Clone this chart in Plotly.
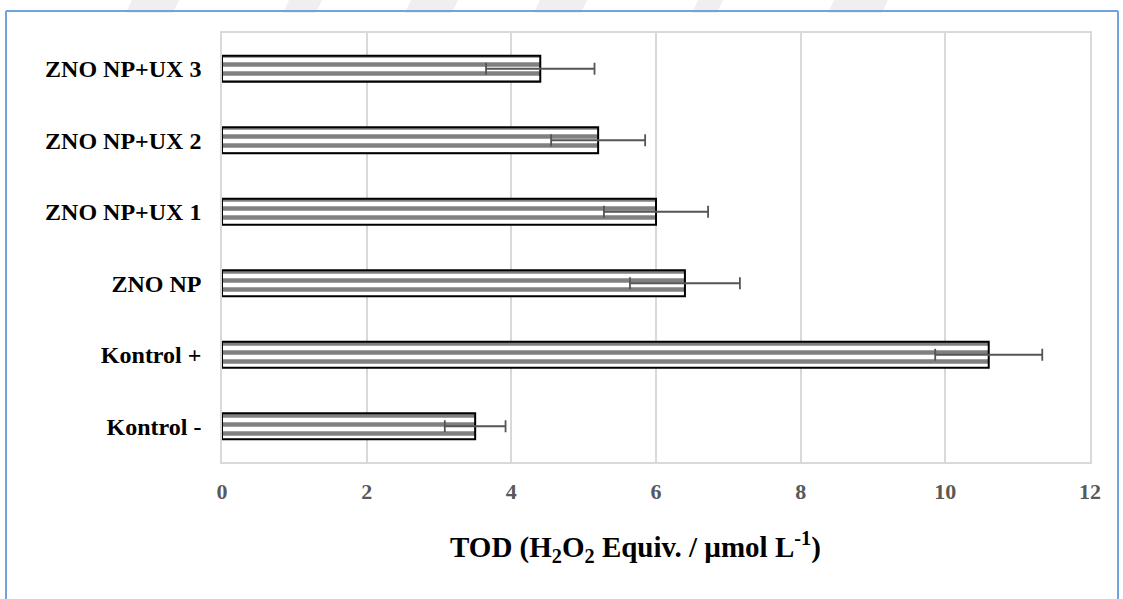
import plotly.graph_objects as go

# TOD results per group (mean and standard deviation)
groups = ["Kontrol -", "Kontrol +", "ZNO NP", "ZNO NP+UX 1", "ZNO NP+UX 2", "ZNO NP+UX 3"]
tod_mean = [3.5, 10.6, 6.4, 6.0, 5.2, 4.4]
tod_sd = [0.42, 0.74, 0.76, 0.72, 0.65, 0.75]
x_ticks = [0, 2, 4, 6, 8, 10, 12]

W, H = 1123, 599
L, R, T, B = 222, 33, 33, 137
pw, ph = W - L - R, H - T - B


def px_x(p):
    return (p - L) / pw


def px_y(p):
    return (H - B - p) / ph


serif = "'Liberation Serif', 'Times New Roman', 'DejaVu Serif', serif"

fig = go.Figure()
fig.add_trace(go.Bar(
    y=groups,
    x=tod_mean,
    orientation="h",
    width=0.365,
    marker=dict(
        color="white",
        line=dict(color="black", width=2),
        pattern=dict(shape="-", fgcolor="#808080", bgcolor="white",
                     size=9, solidity=0.5, fillmode="replace"),
    ),
    error_x=dict(type="data", array=tod_sd, visible=True,
                 color="#555555", thickness=1.8, width=6),
    showlegend=False,
))

# frame around the whole chart (left, top, right edges)
border = "#6fa3dc"
shapes = [
    dict(type="line", xref="paper", yref="paper", x0=px_x(6), x1=px_x(6),
         y0=px_y(11), y1=px_y(620), line=dict(color=border, width=2)),
    dict(type="line", xref="paper", yref="paper", x0=px_x(6), x1=px_x(1118),
         y0=px_y(11), y1=px_y(11), line=dict(color=border, width=2)),
    dict(type="line", xref="paper", yref="paper", x0=px_x(1118), x1=px_x(1118),
         y0=px_y(11), y1=px_y(620), line=dict(color=border, width=2)),
]

# faint slanted marks along the top edge
for a, b in [(122, 179), (279, 322), (401, 458), (530, 587), (688, 723), (824, 888)]:
    x0, x1 = px_x(a + 10), px_x(b)
    x2, x3 = px_x(b - 6), px_x(a + 4)
    y_top, y_bot = px_y(0), px_y(13)
    shapes.append(dict(
        type="path", xref="paper", yref="paper", layer="below",
        path=f"M {x0} {y_top} L {x1} {y_top} L {x2} {y_bot} L {x3} {y_bot} Z",
        fillcolor="#efefef", line=dict(width=0),
    ))

fig.update_layout(
    width=W, height=H,
    margin=dict(l=L, r=R, t=T, b=B),
    paper_bgcolor="white",
    plot_bgcolor="white",
    shapes=shapes,
    bargap=0.6,
    xaxis=dict(
        range=[0, 12], tickvals=x_ticks,
        showgrid=True, gridcolor="#d9d9d9", gridwidth=1.5,
        zeroline=False, showline=True, linecolor="#d9d9d9", linewidth=1.5,
        mirror=True, ticks="", ticklabelstandoff=9,
        tickfont=dict(family=serif, size=22, color="#595959", weight="bold"),
    ),
    yaxis=dict(
        categoryorder="array", categoryarray=groups,
        showgrid=False, zeroline=False, showline=True, linecolor="#d9d9d9",
        linewidth=1.5, mirror=True, ticks="", ticklabelstandoff=14,
        tickfont=dict(family=serif, size=24, color="black", weight="bold"),
    ),
    annotations=[dict(
        text="TOD (H<sub>2</sub>O<sub>2</sub> Equiv. / µmol L<sup>-1</sup>)",
        xref="paper", yref="paper", x=px_x(635), y=px_y(547),
        xanchor="center", yanchor="middle", showarrow=False,
        font=dict(family=serif, size=29, color="black", weight="bold"),
    )],
)

fig.write_html("out.html")
